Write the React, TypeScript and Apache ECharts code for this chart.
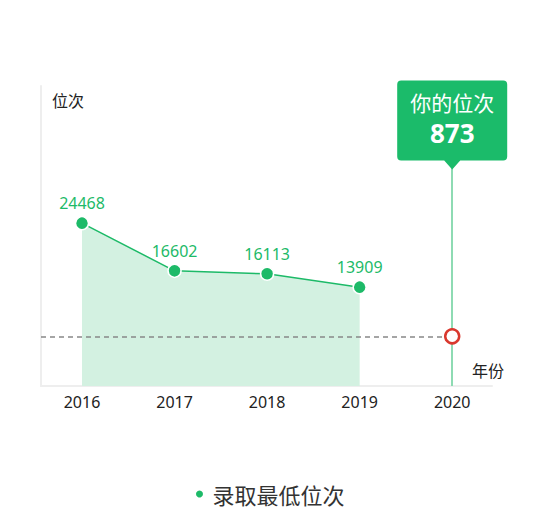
import * as echarts from "echarts";
import { useEffect, useRef } from "react";

// années et position minimale retenue (录取最低位次)
const years = [2016, 2017, 2018, 2019, 2020];
const minRanks = [24468, 16602, 16113, 13909];
// position de l'utilisateur
const myYear = 2020;
const myRank = 873;
// hauteur à laquelle le repère rouge est dessiné sur l'axe Y
const myRankLevel = 5800;

const xMin = 2015.557;
const xMax = 2020.43;
const yMin = -2400;
const yMax = 47100;

const GREEN = "#1dba68";
const CJK = "'Noto Sans CJK SC', sans-serif";

const App = () => {
  const chartRef = useRef<HTMLDivElement | null>(null);

  useEffect(() => {
    document.body.style.margin = "0";
    const chartInstance = echarts.init(chartRef.current!, null, { renderer: "svg" });

    const option = {
      animation: false,
      textStyle: { fontFamily: "'Noto Sans', 'Noto Sans CJK SC', sans-serif" },
      grid: { left: 41, right: 57, top: 86, bottom: 145 },
      legend: {
        data: ["录取最低位次"],
        left: 189,
        bottom: 21,
        icon: "circle",
        itemWidth: 16,
        itemHeight: 9,
        textStyle: { fontSize: 22, color: "#333", fontFamily: CJK },
      },
      xAxis: {
        type: "value",
        min: xMin,
        max: xMax,
        name: "年份",
        nameLocation: "end",
        nameGap: -20,
        nameTextStyle: {
          fontSize: 16,
          color: "#222",
          align: "left",
          verticalAlign: "bottom",
          padding: [0, 0, 8, 0],
          fontFamily: CJK,
        },
        axisLine: { show: true, onZero: false, lineStyle: { color: "#eeeeee", width: 2 } },
        axisTick: { show: false },
        splitLine: { show: false },
        axisLabel: {
          customValues: years,
          formatter: (v: number) => String(v),
          fontSize: 16,
          color: "#222",
          margin: 8,
        },
      },
      yAxis: {
        type: "value",
        min: yMin,
        max: yMax,
        name: "位次",
        nameLocation: "end",
        nameGap: -6,
        nameTextStyle: {
          fontSize: 16,
          color: "#222",
          align: "left",
          verticalAlign: "top",
          padding: [0, 0, 0, 11],
          fontFamily: CJK,
        },
        axisLine: { show: true, onZero: false, lineStyle: { color: "#eeeeee", width: 2 } },
        axisTick: { show: false },
        splitLine: { show: false },
        axisLabel: { show: false },
      },
      series: [
        {
          name: "录取最低位次",
          type: "line",
          data: minRanks.map((v, i) => [years[i], v]),
          symbol: "circle",
          symbolSize: 13,
          itemStyle: { color: GREEN, borderColor: "#fff", borderWidth: 1.5 },
          lineStyle: { color: GREEN, width: 1.5 },
          areaStyle: { color: "#d3f1e1", opacity: 1, origin: "start" },
          label: { show: true, position: "top", distance: 5, color: GREEN, fontSize: 16 },
          z: 3,
        },
        {
          name: "你的位次",
          type: "scatter",
          data: [[myYear, myRankLevel]],
          symbol: "circle",
          symbolSize: 14,
          itemStyle: { color: "#fff", borderColor: "#d9382e", borderWidth: 2.5, opacity: 1 },
          z: 6,
          markLine: {
            silent: true,
            symbol: ["none", "none"],
            label: { show: false },
            data: [
              [
                { coord: [xMin, myRankLevel], lineStyle: { color: "#888", type: [5, 4], width: 1.5 } },
                { coord: [myYear, myRankLevel] },
              ],
              [
                { coord: [myYear, yMin], lineStyle: { color: "#8edbb3", type: "solid", width: 2 } },
                { coord: [myYear, yMax] },
              ],
            ],
            z: 4,
          },
          markPoint: {
            silent: true,
            z: 8,
            data: [
              {
                coord: [myYear, yMax],
                symbol:
                  "path://M4,0 H106 Q110,0 110,4 V76 Q110,80 106,80 H63 L55,89 L47,80 H4 Q0,80 0,76 V4 Q0,0 4,0 Z",
                symbolSize: [110, 89],
                symbolKeepAspect: false,
                symbolOffset: [0, 39],
                itemStyle: { color: "#1bbb6a" },
                label: {
                  show: true,
                  position: "inside",
                  offset: [0, -7],
                  formatter: () => `{a|你的位次}\n{b|${myRank}}`,
                  rich: {
                    a: { fontSize: 21, color: "#fff", lineHeight: 29, fontFamily: CJK },
                    b: { fontSize: 26, color: "#fff", fontWeight: "bold", lineHeight: 32 },
                  },
                },
              },
            ],
          },
        },
      ],
    };

    chartInstance.setOption(option);

    return () => {
      chartInstance.dispose();
    };
  }, []);

  return <div ref={chartRef} style={{ width: "549px", height: "531px" }} />;
};

export default App;
